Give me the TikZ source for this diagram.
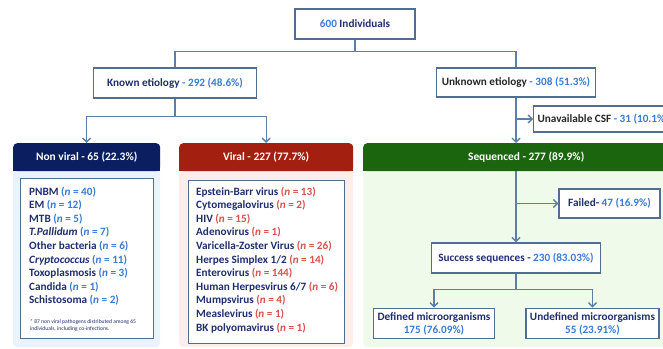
\documentclass[tikz,border=0pt]{standalone}
\usepackage{fontspec}
\setmainfont{Carlito}
\usetikzlibrary{arrows.meta}
\tikzset{>={Straight Barb[length=4pt,width=8pt]}}
\definecolor{linec}{HTML}{5B7FA6}
\definecolor{boxc}{HTML}{4F6E91}
\definecolor{txtc}{HTML}{1F2F6E}
\definecolor{numb}{HTML}{3A7BD5}
\definecolor{numr}{HTML}{D9534F}
\definecolor{hnavy}{HTML}{0B1F60}
\definecolor{hred}{HTML}{A32010}
\definecolor{hgreen}{HTML}{1B650F}
\definecolor{pblue}{HTML}{EAF2FB}
\definecolor{ppink}{HTML}{FDEEEC}
\definecolor{pgreen}{HTML}{F0FAEA}
\newcommand{\nb}[1]{{\color{numb}#1}}
\newcommand{\nvn}[1]{{\color{numb}(\textit{n} = #1)}}
\newcommand{\vn}[1]{{\color{numr}(\textit{n} = #1)}}
\tikzset{
  box/.style={draw=boxc, line width=1.1pt, fill=white, text=txtc, inner sep=4pt,
    font=\fontsize{11.2}{13}\selectfont\bfseries},
  hdr/.style={fill=#1, rounded corners=4pt, text=white, minimum height=28pt,
    anchor=north west, font=\fontsize{11.4}{13}\selectfont\bfseries},
  lst/.style={align=left, inner sep=0pt, text=txtc, anchor=north west,
    font=\fontsize{11.2}{13.6}\selectfont\bfseries},
  conn/.style={draw=linec, line width=1.4pt}
}

\begin{document}
\begin{tikzpicture}[x=1pt,y=-1pt]
  \useasboundingbox (0,0) rectangle (663,348);
  \clip (0,0) rectangle (663,348);
  \fill[pblue, rounded corners=4pt] (13,143) rectangle (160,347);
  \fill[ppink, rounded corners=4pt] (179,143) rectangle (353,347);
  \fill[pgreen, rounded corners=4pt] (363,143) rectangle (690,347);
  \fill[hnavy] (13,157) rectangle (160,171);
  \fill[hred] (179,157) rectangle (353,171);
  \fill[hgreen] (363,157) rectangle (690,171);
  \node[hdr=hnavy, minimum width=147pt] (nvhead) at (13,143) {Non viral - 65 (22.3\%)};
  \node[hdr=hred, minimum width=174pt] (vhead) at (179,143) {Viral - 227 (77.7\%)};
  \node[hdr=hgreen, minimum width=326pt] (seqhead) at (363,143) {Sequenced - 277 (89.9\%)};

  \node[box, minimum width=120pt, minimum height=30pt] (top) at (355,24) {\nb{600} Individuals};
  \node[box, minimum width=163pt, minimum height=30pt] (known) at (175,83) {Known etiology \nb{- 292 (48.6\%)}};
  \node[box, minimum width=159pt, minimum height=29pt, text=black!85] (unknown) at (516,82.5) {Unknown etiology \nb{- 308 (51.3\%)}};
  \node[box, minimum height=26pt, anchor=west, text=black!85] (csf) at (533,119) {Unavailable CSF \nb{- 31 (10.1\%)}};
  \node[box, minimum width=101pt, minimum height=29pt] (failed) at (609.5,203.5) {Failed- \nb{47 (16.9\%)}};
  \node[box, minimum width=169pt, minimum height=30pt] (succ) at (516,258) {Success sequences - \nb{230 (83.03\%)}};
  \node[box, minimum width=118pt, minimum height=29pt, align=center] (defd) at (434,323.5) {Defined microorganisms\\\nb{175 (76.09\%)}};
  \node[box, minimum width=131pt, minimum height=29pt, align=center] (undef) at (592.5,323.5) {Undefined microorganisms\\\nb{55 (23.91\%)}};

  \node[box, minimum width=133pt, minimum height=160pt, anchor=north west] (nvbox) at (20,178) {};
  \node[lst] (nvlist) at (29,186.5) {PNBM \nvn{40}\\EM \nvn{12}\\MTB \nvn{5}\\\textit{T.Pallidum} \nvn{7}\\
    Other bacteria \nvn{6}\\\textit{Cryptococcus} \nvn{11}\\Toxoplasmosis \nvn{3}\\Candida \nvn{1}\\Schistosoma \nvn{2}};
  \node[lst, font=\fontsize{5.6}{6.4}\selectfont] (nvnote) at (30,319.5) {* 87 non viral pathogens distributed among 65\\individuals, including co-infections.};
  \node[box, minimum width=156pt, minimum height=163pt, anchor=north west] (vbox) at (188,180) {};
  \node[lst] (vlist) at (196,186.5) {Epstein-Barr virus \vn{13}\\Cytomegalovirus \vn{2}\\HIV \vn{15}\\Adenovirus \vn{1}\\
    Varicella-Zoster Virus \vn{26}\\Herpes Simplex 1/2 \vn{14}\\Enterovirus \vn{144}\\Human Herpesvirus 6/7 \vn{6}\\
    Mumpsvirus \vn{4}\\Measlevirus \vn{1}\\BK polyomavirus \vn{1}};

  \draw[conn] (top.south) -- ++(0,12) -| (known.north);
  \draw[conn] (top.south) ++(0,12) -| (unknown.north);
  \draw[conn,->] (known.south) -- ++(0,18) -| (nvhead.north);
  \draw[conn,->] (known.south) ++(0,18) -| (vhead.north);
  \draw[conn,->] (unknown.south) -- (unknown.south |- seqhead.north);
  \draw[conn,->] (unknown.south |- csf.west) -- (csf.west);
  \draw[conn,->] (succ.north |- seqhead.south) -- (succ.north);
  \draw[conn,->] (succ.north |- failed.west) -- (failed.west);
  \draw[conn] (succ.south) -- ++(0,16) coordinate (sj);
  \draw[conn,->] (sj) -| (defd.north);
  \draw[conn,->] (sj) -| (undef.north);
\end{tikzpicture}
\end{document}
